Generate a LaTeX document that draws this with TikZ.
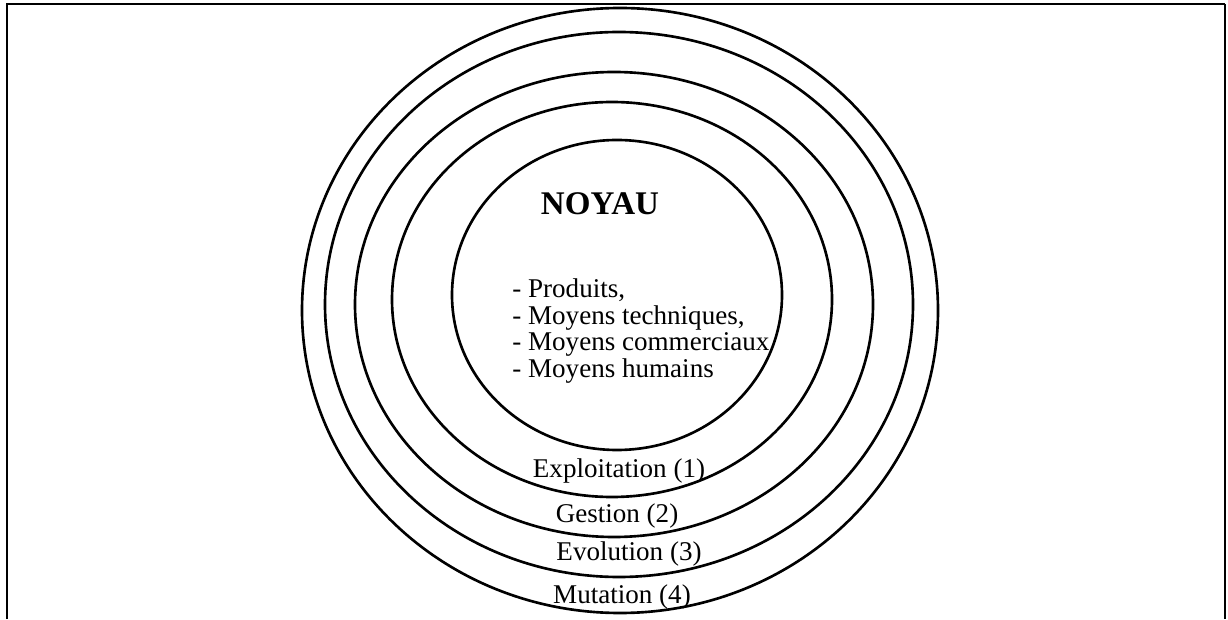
\documentclass[tikz,border=0pt]{standalone}
\usepackage{fontspec}
\setmainfont{Liberation Serif}
\usepackage{tikz}
\usetikzlibrary{shapes.geometric, positioning}

\begin{document}
\begin{tikzpicture}[
    ring/.style={draw, ellipse, line width=1.5pt, inner sep=0pt},
    ringtext/.style={anchor=base, inner sep=0pt, font=\fontsize{15.4}{15.1}\selectfont},
    frame/.style={line width=1.4pt}
]
    \useasboundingbox (0,0) rectangle (24.56,12.38);

    % ================= FRAME =================
    \coordinate (FBL) at (0.14,0);
    \coordinate (FTR) at (24.50,12.30);
    \coordinate (FBR) at (24.50,0);
    \draw[frame] (FBL) |- (FTR);
    \draw[line width=0.6pt] (FTR) -- (FBR);

    % ================= RINGS =================
    \node[ring, minimum width=12.72cm, minimum height=12.10cm] (MUT) at (12.40, 6.17) {};
    \node[ring, minimum width=11.76cm, minimum height=10.90cm] (EVOL) at (12.38, 6.29) {};
    \node[ring, minimum width=10.36cm, minimum height=9.30cm] (GEST) at (12.28, 6.29) {};
    \node[ring, minimum width=8.80cm, minimum height=7.90cm] (EXPL) at (12.24, 6.39) {};
    \node[ring, minimum width=6.60cm, minimum height=6.20cm] (NOY) at (12.34, 6.48) {};

    % ================= CORE TEXT =================
    \node[anchor=base, inner sep=0pt, font=\fontsize{18.8}{20}\selectfont\bfseries] (TITLE) at (12.00, 8.08) {NOYAU};
    \node[anchor=north west, inner sep=0pt, align=left, font=\fontsize{15.4}{15.1}\selectfont] (LIST) at (10.24, 6.81)
        {- Produits,\\- Moyens techniques,\\- Moyens commerciaux\\- Moyens humains};

    % ================= RING LABELS =================
    \node[ringtext] (LEXPL) at (12.38, 2.82) {Exploitation (1)};
    \node[ringtext] (LGEST) at (12.34, 1.92) {Gestion (2)};
    \node[ringtext] (LEVOL) at (12.58, 1.18) {Evolution (3)};
    \node[ringtext] (LMUT) at (12.44, 0.32) {Mutation (4)};

\end{tikzpicture}
\end{document}
